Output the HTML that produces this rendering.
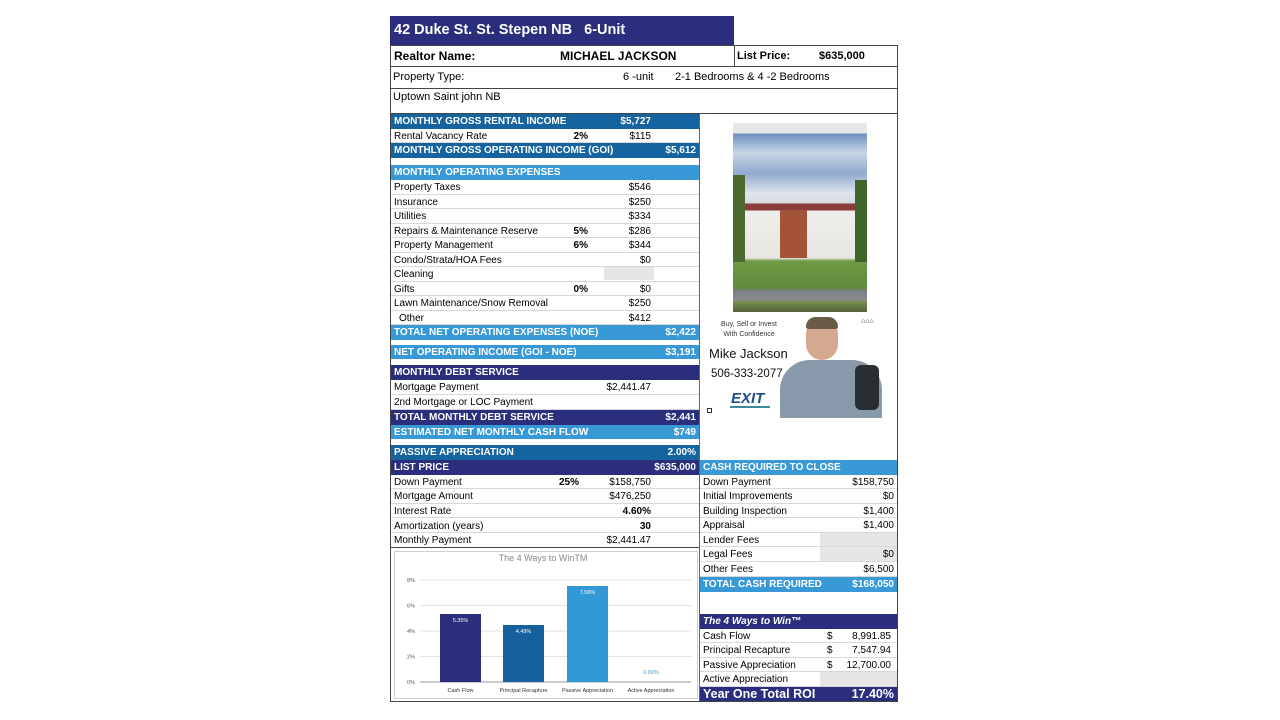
<!DOCTYPE html>
<html><head><meta charset="utf-8"><style>
*{margin:0;padding:0;box-sizing:border-box}
body{width:1280px;height:720px;background:#fff;position:relative;overflow:hidden;font-family:"Liberation Sans",sans-serif;font-size:10px;color:#000}
.a{position:absolute}
.r{position:absolute;left:391px;width:308px;border-bottom:1px solid #d8d8d8;line-height:15.5px;height:14.5px}
.rr{position:absolute;left:700px;width:197px;border-bottom:1px solid #d8d8d8;line-height:15.5px;height:14.6px}
.h{color:#fff;font-weight:bold;border-bottom:none}
.nv{background:#2a2e7c}.md{background:#15649f}.lt{background:#3899d6}
.l{position:absolute;left:3px}
.v{position:absolute;text-align:right}
.gray{position:absolute;background:#e6e6e6}
</style></head><body>
<div class="a nv" style="left:390px;top:16px;width:344px;height:29px;color:#fff;font-weight:bold;font-size:14.5px;line-height:29px;padding-left:4px">42 Duke St. St. Stepen NB&nbsp;&nbsp; 6-Unit</div>
<div class="a" style="left:390px;top:45px;width:508px;height:657px;border:1px solid #444;border-top:none"></div>
<div class="a" style="left:390px;top:45px;width:508px;height:22px;border:1px solid #444;font-weight:bold;font-size:12px;line-height:20px">
<span class="a" style="left:3px">Realtor Name:</span><span class="a" style="left:169px">MICHAEL JACKSON</span>
<span class="a" style="left:343px;top:-1px;height:22px;border-left:1px solid #444"></span>
<span class="a" style="left:346px;font-size:11px">List Price:</span><span class="a" style="left:428px;font-size:11px">$635,000</span></div>
<div class="a" style="left:390px;top:66px;width:508px;height:23px;border-bottom:1px solid #444;font-size:11px;line-height:23px">
<span class="a" style="left:3px">Property Type:</span><span class="a" style="left:233px">6 -unit</span><span class="a" style="left:285px">2-1 Bedrooms &amp; 4 -2 Bedrooms</span></div>
<div class="a" style="left:390px;top:88px;width:508px;height:26px;border-bottom:1px solid #444;font-size:11px;line-height:18px"><span class="a" style="left:3px">Uptown Saint john NB</span></div>
<div class="a" style="left:699px;top:114px;height:587px;border-left:1px solid #666"></div>

<div class="r h md" style="top:114px"><span class="l">MONTHLY GROSS RENTAL INCOME</span><span class="v" style="right:48px">$5,727</span></div>
<div class="r" style="top:128.5px"><span class="l">Rental Vacancy Rate</span><span class="v" style="right:111px;font-weight:bold">2%</span><span class="v" style="right:48px">$115</span></div>
<div class="r h md" style="top:143px"><span class="l">MONTHLY GROSS OPERATING INCOME (GOI)</span><span class="v" style="right:3px">$5,612</span></div>
<div class="r h lt" style="top:165px"><span class="l">MONTHLY OPERATING EXPENSES</span></div>
<div class="gray" style="left:604px;top:266px;width:50px;height:14px"></div>
<div class="r" style="top:180px"><span class="l">Property Taxes</span><span class="v" style="right:48px">$546</span></div>
<div class="r" style="top:194.5px"><span class="l">Insurance</span><span class="v" style="right:48px">$250</span></div>
<div class="r" style="top:209px"><span class="l">Utilities</span><span class="v" style="right:48px">$334</span></div>
<div class="r" style="top:223.5px"><span class="l">Repairs &amp; Maintenance Reserve</span><span class="v" style="right:111px;font-weight:bold">5%</span><span class="v" style="right:48px">$286</span></div>
<div class="r" style="top:238px"><span class="l">Property Management</span><span class="v" style="right:111px;font-weight:bold">6%</span><span class="v" style="right:48px">$344</span></div>
<div class="r" style="top:252.5px"><span class="l">Condo/Strata/HOA Fees</span><span class="v" style="right:48px">$0</span></div>
<div class="r" style="top:267px;background:transparent"><span class="l">Cleaning</span></div>
<div class="r" style="top:281.5px"><span class="l">Gifts</span><span class="v" style="right:111px;font-weight:bold">0%</span><span class="v" style="right:48px">$0</span></div>
<div class="r" style="top:296px"><span class="l">Lawn Maintenance/Snow Removal</span><span class="v" style="right:48px">$250</span></div>
<div class="r" style="top:310.5px"><span class="l" style="left:8px">Other</span><span class="v" style="right:48px">$412</span></div>
<div class="r h lt" style="top:325px"><span class="l">TOTAL NET OPERATING EXPENSES (NOE)</span><span class="v" style="right:3px">$2,422</span></div>
<div class="r h lt" style="top:344.5px"><span class="l">NET OPERATING INCOME (GOI - NOE)</span><span class="v" style="right:3px">$3,191</span></div>
<div class="r h nv" style="top:365px"><span class="l">MONTHLY DEBT SERVICE</span></div>
<div class="r" style="top:380px"><span class="l">Mortgage Payment</span><span class="v" style="right:48px">$2,441.47</span></div>
<div class="r" style="top:395px"><span class="l">2nd Mortgage or LOC Payment</span></div>
<div class="r h nv" style="top:410px"><span class="l">TOTAL MONTHLY DEBT SERVICE</span><span class="v" style="right:3px">$2,441</span></div>
<div class="r h lt" style="top:424.5px"><span class="l">ESTIMATED NET MONTHLY CASH FLOW</span><span class="v" style="right:3px">$749</span></div>
<div class="r h md" style="top:445px"><span class="l">PASSIVE APPRECIATION</span><span class="v" style="right:3px">2.00%</span></div>
<div class="r h nv" style="top:460px"><span class="l">LIST PRICE</span><span class="v" style="right:3px">$635,000</span></div>
<div class="r" style="top:474.5px"><span class="l">Down Payment</span><span class="v" style="right:120px;font-weight:bold">25%</span><span class="v" style="right:48px">$158,750</span></div>
<div class="r" style="top:489px"><span class="l">Mortgage Amount</span><span class="v" style="right:48px">$476,250</span></div>
<div class="r" style="top:503.5px"><span class="l">Interest Rate</span><span class="v" style="right:48px;font-weight:bold">4.60%</span></div>
<div class="r" style="top:518.5px"><span class="l">Amortization (years)</span><span class="v" style="right:48px;font-weight:bold">30</span></div>
<div class="r" style="top:533px;border-bottom:1px solid #444"><span class="l">Monthly Payment</span><span class="v" style="right:48px">$2,441.47</span></div>

<div class="a" style="left:394px;top:551px;width:304px;height:148px;border:1px solid #d0d0d0"></div>
<svg class="a" style="left:391px;top:548px" width="308" height="153">
<g font-family="Liberation Sans,sans-serif">
<text x="152" y="13" text-anchor="middle" font-size="9" fill="#888">The 4 Ways to WinTM</text>
<g stroke="#d9d9d9" stroke-width="0.7"><line x1="29" x2="300" y1="32" y2="32"/><line x1="29" x2="300" y1="57.5" y2="57.5"/><line x1="29" x2="300" y1="83" y2="83"/><line x1="29" x2="300" y1="108.5" y2="108.5"/></g>
<line x1="29" x2="300" y1="134" y2="134" stroke="#999"/>
<g font-size="5.5" fill="#555" text-anchor="end"><text x="24" y="34">8%</text><text x="24" y="59.5">6%</text><text x="24" y="85">4%</text><text x="24" y="110.5">2%</text><text x="24" y="136">0%</text></g>
<rect x="49" y="66" width="41" height="68" fill="#2a2e7c"/>
<rect x="112" y="77" width="41" height="57" fill="#15609d"/>
<rect x="176" y="38" width="41" height="96" fill="#3399d6"/>
<g font-size="5.5" fill="#fff" text-anchor="middle"><text x="69.5" y="74">5.35%</text><text x="132.5" y="85">4.49%</text><text x="196.5" y="46">7.56%</text></g>
<text x="260" y="126" font-size="5.5" fill="#3399d6" text-anchor="middle">0.00%</text>
<g font-size="5.5" fill="#333" text-anchor="middle"><text x="69.5" y="144">Cash Flow</text><text x="132.5" y="144">Principal Recapture</text><text x="196.5" y="144">Passive Appreciation</text><text x="260" y="144">Active Appreciation</text></g>
</g></svg>

<div class="a" style="left:733px;top:123px;width:134px;height:189px;background:linear-gradient(#e6e8e8 0,#e6e8e8 10px,#6f8fc0 11px,#c9d6e6 30px,#8fa9d0 50px,#dfe4ea 70px,#d8dde4 80px,#8a3c3a 81px,#8a3c3a 87px,#f0eeea 88px,#e8e6e2 135px,#6f9a45 138px,#5f8a3a 165px,#7b7f86 168px,#8a8a90 176px,#708a4a 180px,#55603a 189px)"></div>
<div class="a" style="left:780px;top:210px;width:27px;height:48px;background:#a45436"></div>
<div class="a" style="left:733px;top:175px;width:12px;height:87px;background:#4c6a30"></div>
<div class="a" style="left:855px;top:180px;width:12px;height:82px;background:#3f6428"></div>
<div class="a" style="left:717px;top:320px;width:64px;text-align:center;font-size:7px;line-height:10px;color:#333">Buy, Sell or Invest<br>With Confidence</div>
<div class="a" style="left:709px;top:346px;font-size:13px;color:#111">Mike Jackson</div>
<div class="a" style="left:711px;top:368px;font-size:11.5px;color:#111">506-333-2077</div>
<div class="a" style="left:731px;top:390px;font-size:15px;font-weight:bold;color:#1a4f8a;font-style:italic">EXIT</div>
<div class="a" style="left:730px;top:406px;width:40px;height:2px;background:#3a8a9a"></div>
<div class="a" style="left:707px;top:408px;width:5px;height:5px;border:1px solid #333"></div>
<div class="a" style="left:861px;top:318px;font-size:7px;color:#333">⌂⌂⌂</div>
<div class="a" style="left:780px;top:360px;width:102px;height:58px;background:#8899aa;border-radius:30px 30px 0 0"></div>
<div class="a" style="left:855px;top:365px;width:24px;height:45px;background:#2a2e33;border-radius:6px"></div>
<div class="a" style="left:806px;top:318px;width:32px;height:42px;background:#d5a890;border-radius:16px"></div>
<div class="a" style="left:806px;top:317px;width:32px;height:12px;background:#6a5a4a;border-radius:16px 16px 4px 4px"></div>

<div class="rr h lt" style="top:460px"><span class="l">CASH REQUIRED TO CLOSE</span></div>
<div class="gray" style="left:820px;top:532px;width:77px;height:29px"></div>
<div class="gray" style="left:820px;top:672px;width:77px;height:15px"></div>
<div class="rr" style="top:474.5px"><span class="l">Down Payment</span><span class="v" style="right:3px">$158,750</span></div>
<div class="rr" style="top:489px"><span class="l">Initial Improvements</span><span class="v" style="right:3px">$0</span></div>
<div class="rr" style="top:503.5px"><span class="l">Building Inspection</span><span class="v" style="right:3px">$1,400</span></div>
<div class="rr" style="top:518px"><span class="l">Appraisal</span><span class="v" style="right:3px">$1,400</span></div>
<div class="rr" style="top:532.5px;background:transparent"><span class="l">Lender Fees</span></div>
<div class="rr" style="top:547px;background:transparent"><span class="l">Legal Fees</span><span class="v" style="right:3px">$0</span></div>
<div class="rr" style="top:562px"><span class="l">Other Fees</span><span class="v" style="right:3px">$6,500</span></div>
<div class="rr h lt" style="top:577px"><span class="l">TOTAL CASH REQUIRED</span><span class="v" style="right:3px">$168,050</span></div>
<div class="rr h nv" style="top:614px;font-style:italic"><span class="l">The 4 Ways to Win™</span></div>
<div class="rr" style="top:628.5px"><span class="l">Cash Flow</span><span class="a" style="left:127px">$</span><span class="v" style="right:6px">8,991.85</span></div>
<div class="rr" style="top:643px"><span class="l">Principal Recapture</span><span class="a" style="left:127px">$</span><span class="v" style="right:6px">7,547.94</span></div>
<div class="rr" style="top:657.5px"><span class="l">Passive Appreciation</span><span class="a" style="left:127px">$</span><span class="v" style="right:6px">12,700.00</span></div>
<div class="rr" style="top:672px;background:transparent"><span class="l">Active Appreciation</span></div>
<div class="rr h nv" style="top:687px;font-size:12.5px;height:14px;line-height:14px"><span class="l">Year One Total ROI</span><span class="v" style="right:3px">17.40%</span></div>
</body></html>
